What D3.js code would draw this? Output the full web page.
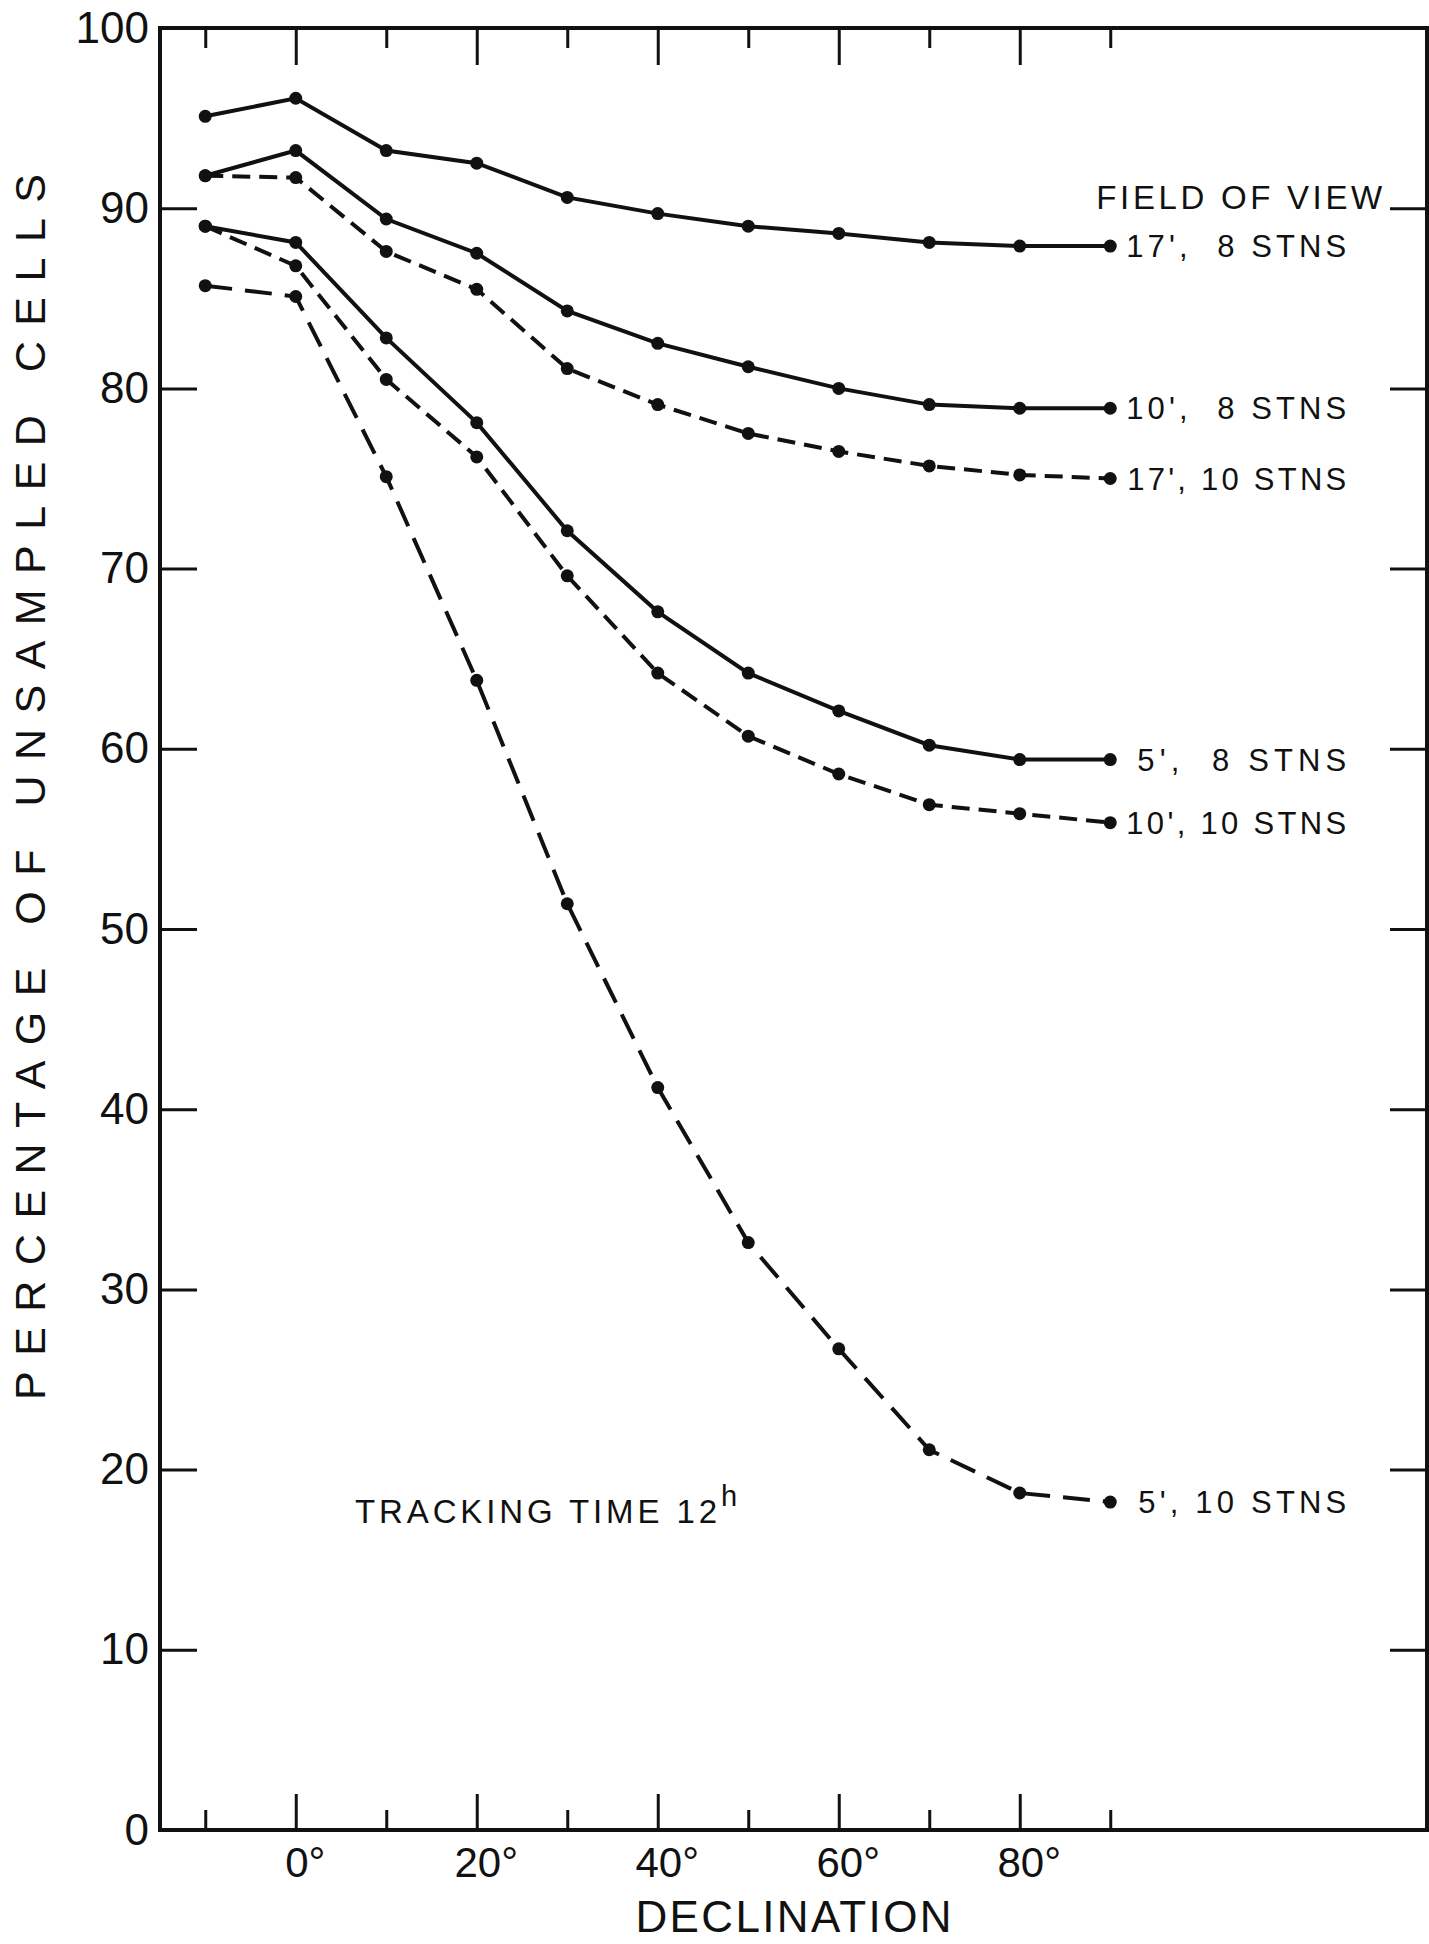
<!DOCTYPE html>
<html>
<head>
<meta charset="utf-8">
<script src="https://d3js.org/d3.v7.min.js"></script>
<style>
  body { margin: 0; background: #fff; }
  svg { display: block; }
  text { font-family: "Liberation Sans", Arial, sans-serif; fill: #111; }
</style>
</head>
<body>
<svg id="chart"></svg>
<script>
// values (percentage of unsampled cells)
const declination = [-10, 0, 10, 20, 30, 40, 50, 60, 70, 80, 90];
const fov17stn8  = [95.1, 96.1, 93.2, 92.5, 90.6, 89.7, 89.0, 88.6, 88.1, 87.9, 87.9];
const fov10stn8  = [91.8, 93.2, 89.4, 87.5, 84.3, 82.5, 81.2, 80.0, 79.1, 78.9, 78.9];
const fov17stn10 = [91.8, 91.7, 87.6, 85.5, 81.1, 79.1, 77.5, 76.5, 75.7, 75.2, 75.0];
const fov5stn8   = [89.0, 88.1, 82.8, 78.1, 72.1, 67.6, 64.2, 62.1, 60.2, 59.4, 59.4];
const fov10stn10 = [89.0, 86.8, 80.5, 76.2, 69.6, 64.2, 60.7, 58.6, 56.9, 56.4, 55.9];
const fov5stn10  = [85.7, 85.1, 75.1, 63.8, 51.4, 41.2, 32.6, 26.7, 21.1, 18.7, 18.2];

const seriesLabels = ["17',  8 STNS", "10',  8 STNS", "17', 10 STNS", "5',  8 STNS", "10', 10 STNS", "5', 10 STNS"];
const yTicks = [0, 10, 20, 30, 40, 50, 60, 70, 80, 90, 100];
const yInnerTicks = [10, 20, 30, 40, 50, 60, 70, 80, 90];
const xMajorTicks = [0, 20, 40, 60, 80];
const xMinorTicks = [-10, 10, 30, 50, 70, 90];

const width = 1429, height = 1944;
const ink = "#111";

const svg = d3.select("#chart")
  .attr("width", width)
  .attr("height", height)
  .attr("viewBox", [0, 0, width, height]);

const x = d3.scaleLinear().domain([-15, 125]).range([160, 1427]);
const y = d3.scaleLinear().domain([0, 100]).range([1830, 28]);

const [x0, x1] = x.range();
const [yb, yt] = y.range();

// line styles: solid / short dash / long dash
const dashes = [null, null, "18,9", null, "18,9", "27,13"];
const labelWidths = [220, 220, 219, 209, 220, 208];

const series = [fov17stn8, fov10stn8, fov17stn10, fov5stn8, fov10stn10, fov5stn10]
  .map((vals, i) => ({
    label: seriesLabels[i],
    dash: dashes[i],
    points: vals.map((v, j) => ({ dec: declination[j], v }))
  }));

const styleAxis = g => g
  .attr("color", ink)
  .attr("font-family", `"Liberation Sans", Arial, sans-serif`)
  .call(g => g.select(".domain").remove())
  .call(g => g.selectAll(".tick line").attr("stroke-width", 3));

// bottom ticks (pointing up into the frame)
svg.append("g")
  .attr("transform", `translate(0,${yb})`)
  .call(d3.axisBottom(x).tickValues(xMajorTicks).tickSizeInner(-36).tickSizeOuter(0)
    .tickPadding(17).tickFormat(d => d + "°"))
  .call(styleAxis)
  .attr("font-size", 42)
  .call(g => g.selectAll("text").attr("dx", 9));

svg.append("g")
  .attr("transform", `translate(0,${yb})`)
  .call(d3.axisBottom(x).tickValues(xMinorTicks).tickSizeInner(-20).tickSizeOuter(0).tickFormat(""))
  .call(styleAxis);

// top ticks (pointing down)
svg.append("g")
  .attr("transform", `translate(0,${yt})`)
  .call(d3.axisTop(x).tickValues(xMajorTicks).tickSizeInner(-37).tickSizeOuter(0).tickFormat(""))
  .call(styleAxis);

svg.append("g")
  .attr("transform", `translate(0,${yt})`)
  .call(d3.axisTop(x).tickValues(xMinorTicks).tickSizeInner(-20).tickSizeOuter(0).tickFormat(""))
  .call(styleAxis);

// left axis with labels
svg.append("g")
  .attr("transform", `translate(${x0},0)`)
  .call(d3.axisLeft(y).tickValues(yTicks).tickSizeInner(-37).tickSizeOuter(0)
    .tickPadding(11).tickFormat(d3.format("d")))
  .call(styleAxis)
  .attr("font-size", 44);

// right axis, ticks only
svg.append("g")
  .attr("transform", `translate(${x1},0)`)
  .call(d3.axisRight(y).tickValues(yInnerTicks).tickSizeInner(-37).tickSizeOuter(0).tickFormat(""))
  .call(styleAxis);

// frame
svg.append("rect")
  .attr("x", x0)
  .attr("y", yt)
  .attr("width", x1 - x0)
  .attr("height", yb - yt)
  .attr("fill", "none")
  .attr("stroke", ink)
  .attr("stroke-width", 4);

const line = d3.line()
  .x(d => x(d.dec))
  .y(d => y(d.v));

const g = svg.append("g");

g.selectAll("path.curve")
  .data(series)
  .join("path")
  .attr("class", "curve")
  .attr("d", d => line(d.points))
  .attr("fill", "none")
  .attr("stroke", ink)
  .attr("stroke-width", 4)
  .attr("stroke-dasharray", d => d.dash);

g.selectAll("g.dots")
  .data(series)
  .join("g")
  .attr("class", "dots")
  .attr("fill", ink)
  .selectAll("circle")
  .data(d => d.points)
  .join("circle")
  .attr("cx", d => x(d.dec))
  .attr("cy", d => y(d.v))
  .attr("r", 6.5);

// series labels at the right end of each curve
const labelRight = x(90) + 236;
g.selectAll("text.slabel")
  .data(series)
  .join("text")
  .attr("class", "slabel")
  .attr("x", labelRight)
  .attr("y", d => y(d.points[d.points.length - 1].v))
  .attr("dy", "0.36em")
  .attr("text-anchor", "end")
  .attr("font-size", 31)
  .style("white-space", "pre")
  .attr("textLength", (d, i) => labelWidths[i])
  .attr("lengthAdjust", "spacing")
  .text(d => d.label);

svg.append("text")
  .attr("x", x(90) + 272)
  .attr("y", y(90) + 1)
  .attr("text-anchor", "end")
  .attr("font-size", 33)
  .attr("textLength", 286)
  .attr("lengthAdjust", "spacing")
  .text("FIELD OF VIEW");

// tracking time note
svg.append("text")
  .attr("x", 355)
  .attr("y", 1523)
  .attr("font-size", 33)
  .attr("textLength", 362)
  .attr("lengthAdjust", "spacing")
  .text("TRACKING TIME 12");

svg.append("text")
  .attr("x", 721)
  .attr("y", 1506)
  .attr("font-size", 29)
  .text("h");

// axis titles
svg.append("text")
  .attr("x", (x0 + x1) / 2)
  .attr("y", 1932)
  .attr("text-anchor", "middle")
  .attr("font-size", 44)
  .attr("textLength", 316)
  .attr("lengthAdjust", "spacing")
  .text("DECLINATION");

svg.append("text")
  .attr("transform", "translate(45,787) rotate(-90)")
  .attr("text-anchor", "middle")
  .attr("font-size", 43)
  .attr("textLength", 1226)
  .attr("lengthAdjust", "spacing")
  .text("PERCENTAGE OF UNSAMPLED CELLS");
</script>
</body>
</html>
